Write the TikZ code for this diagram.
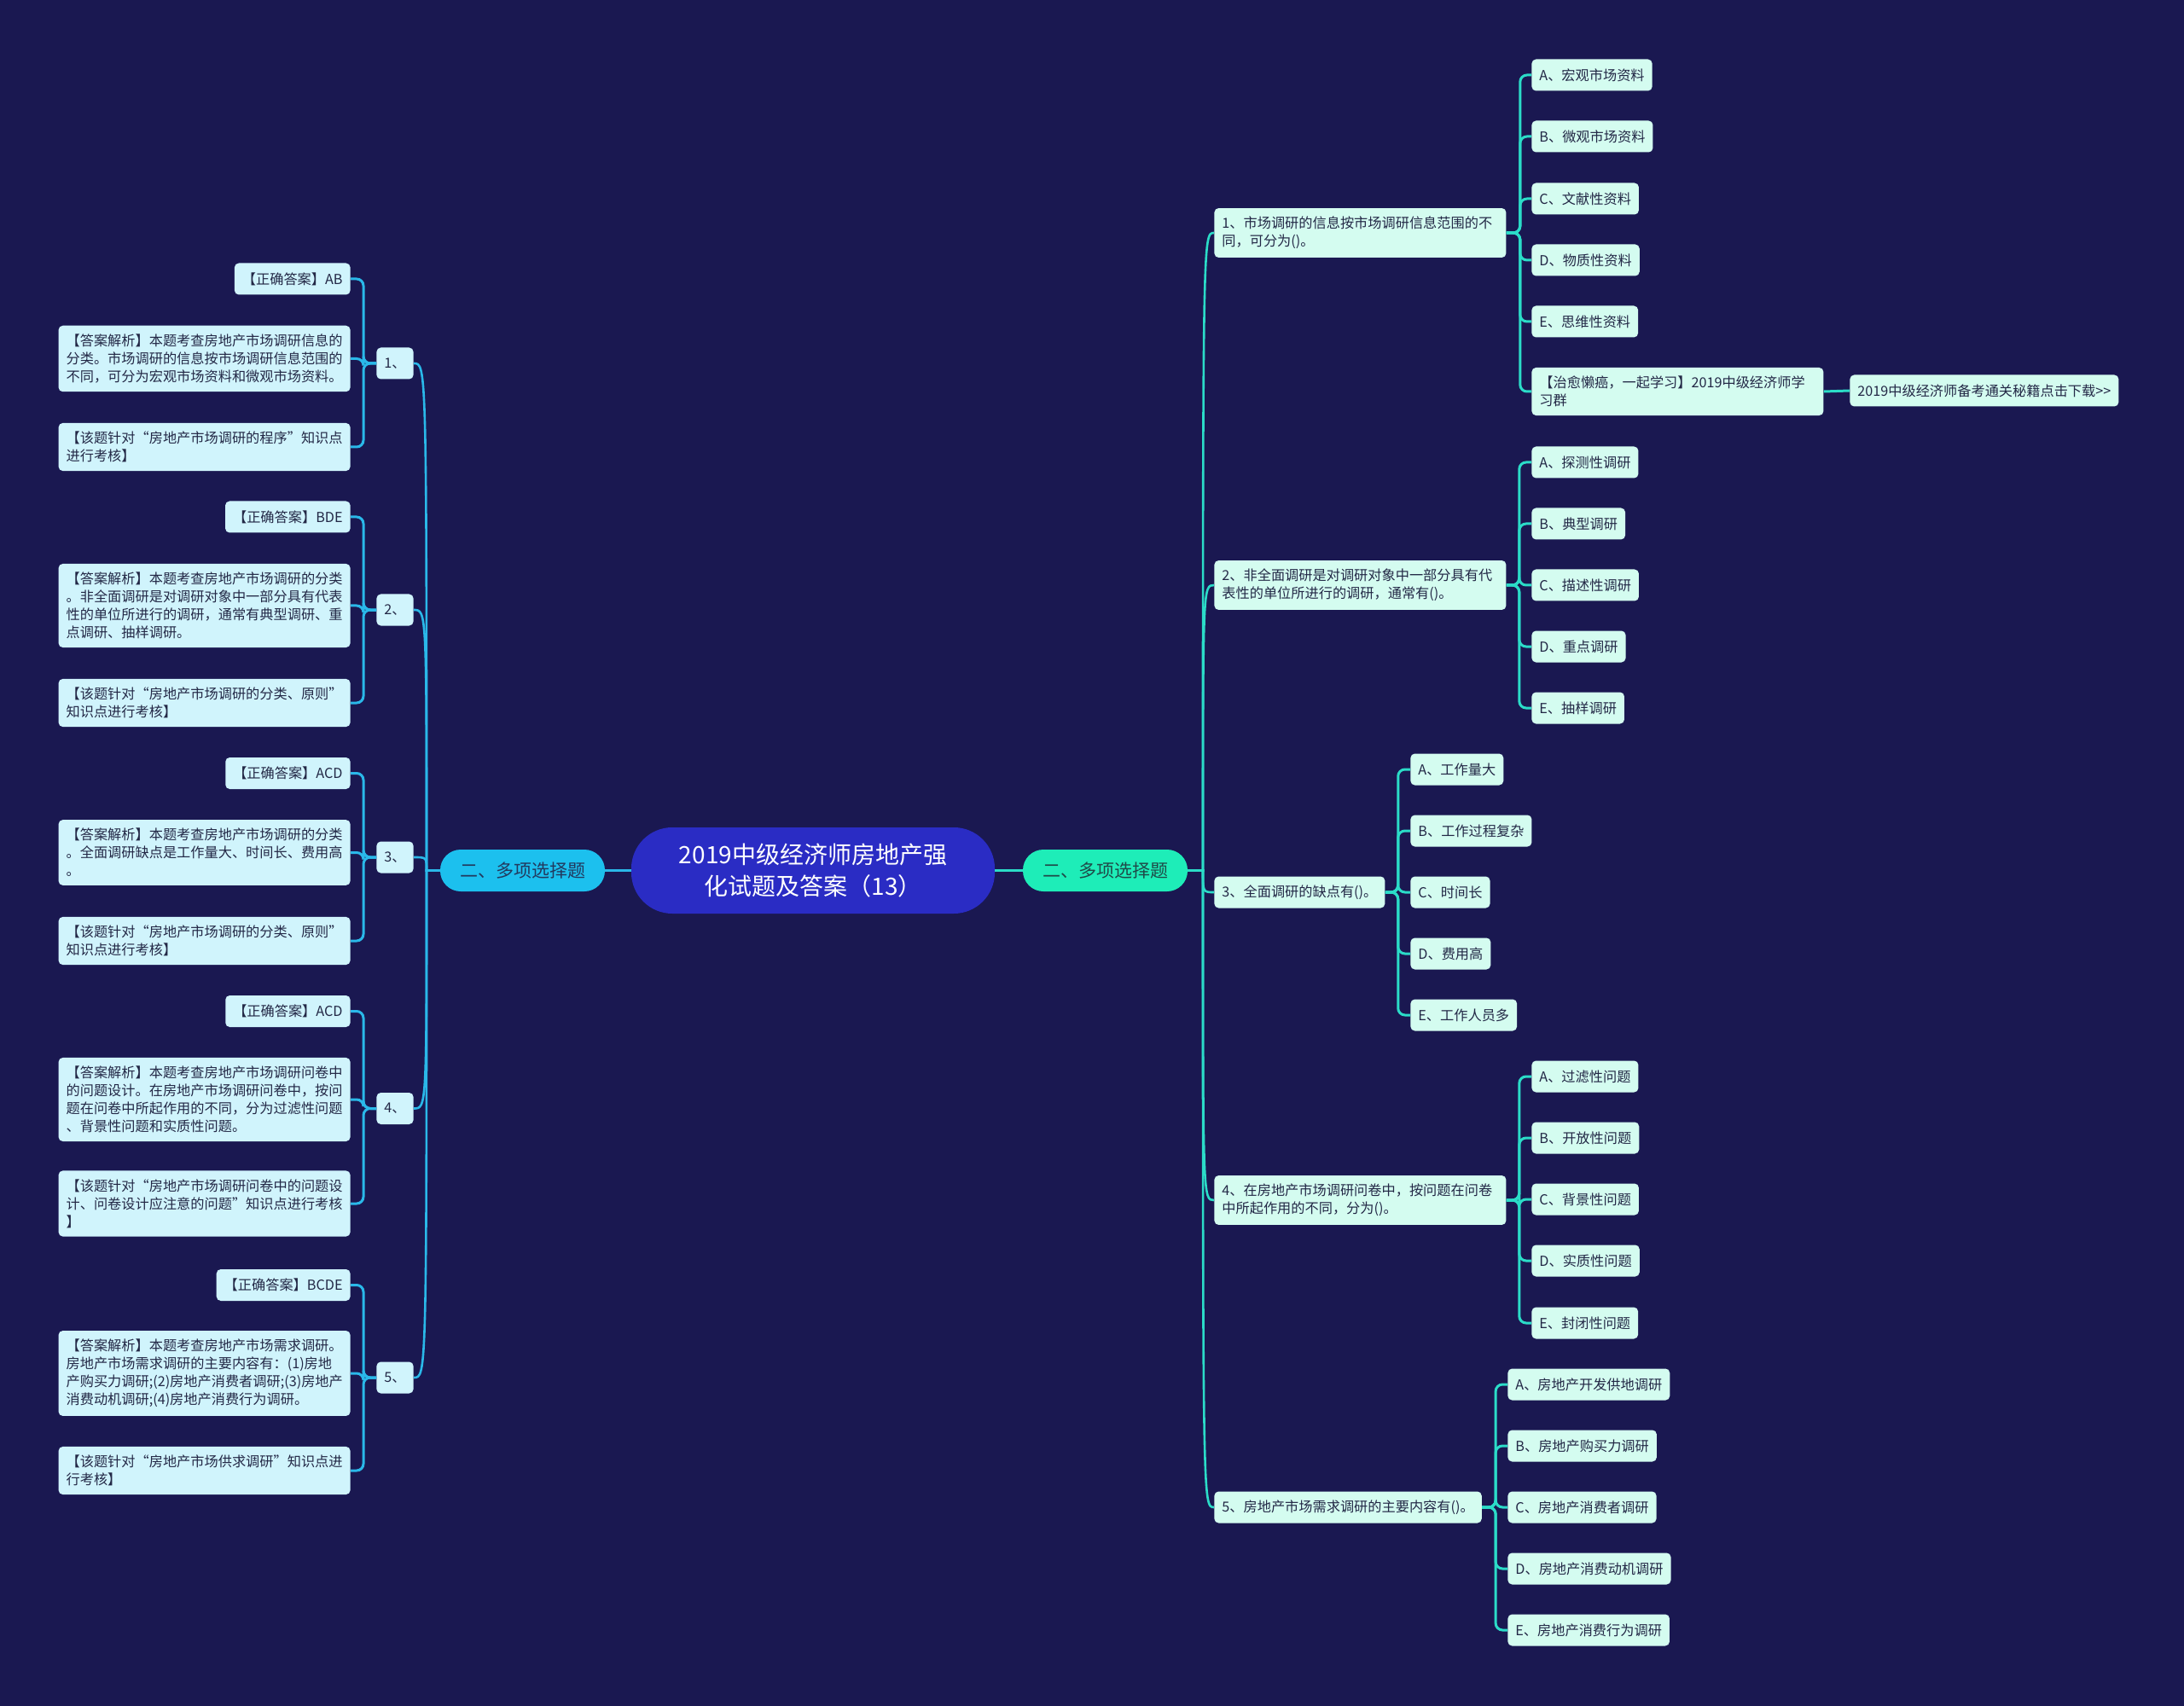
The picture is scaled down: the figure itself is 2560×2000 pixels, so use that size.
\documentclass[tikz,border=0pt]{standalone}
\usepackage{fontspec}
\setmainfont{Noto Sans CJK SC}
\definecolor{bgcol}{HTML}{1A1851}
\definecolor{rootcol}{HTML}{2A2CC4}
\definecolor{lbranchcol}{HTML}{1CC0EE}
\definecolor{rbranchcol}{HTML}{1EEDB8}
\definecolor{lleafcol}{HTML}{D0F4FC}
\definecolor{rleafcol}{HTML}{D4FCF0}
\definecolor{llinecol}{HTML}{2AB8E9}
\definecolor{rlinecol}{HTML}{2BDCC8}
\definecolor{leaftxt}{HTML}{232846}
\definecolor{lbtxt}{HTML}{22395E}
\definecolor{rbtxt}{HTML}{1F4A48}
\begin{document}
\begin{tikzpicture}[x=0.5pt,y=0.5pt,yscale=-1,xscale=1,
  lleaf/.style={fill=lleafcol,text=leaftxt,rounded corners=2.5pt,inner xsep=4.5pt,inner ysep=5pt,minimum height=18.5pt,align=left,font=\fontsize{8.1pt}{10.5pt}\selectfont},
  lwide/.style={lleaf,text width=162pt},
  rleaf/.style={lleaf,fill=rleafcol},
  rwide/.style={rleaf,text width=162pt},
  lbranch/.style={fill=lbranchcol,text=lbtxt,rounded corners=12pt,minimum width=96.5pt,minimum height=24.5pt,font=\fontsize{10.5pt}{12pt}\selectfont},
  rbranch/.style={lbranch,fill=rbranchcol,text=rbtxt},
  root/.style={fill=rootcol,text=white,rounded corners=24pt,minimum width=213pt,minimum height=50.5pt,align=center,font=\fontsize{14pt}{18.8pt}\selectfont},
  lline/.style={draw=llinecol,line width=1.3pt},
  rline/.style={draw=rlinecol,line width=1.3pt},
  lbus/.style={draw=llinecol,line width=1.5pt,rounded corners=4pt},
  rbus/.style={draw=rlinecol,line width=1.5pt,rounded corners=4pt}]
%Background
\fill [bgcol] (0,0) rectangle (2560,2000) ;
\useasboundingbox (0,0) rectangle (2560,2000) ;

% Text Node
\draw (953,1020.5) node (root) [root] {2019中级经济师房地产强\\化试题及答案（13）};
% Text Node
\draw (612.5,1020.5) node (lb) [lbranch] {二、多项选择题};
% Text Node
\draw (1295.5,1020.5) node (rb) [rbranch] {二、多项选择题};

% Text Node
\draw (463,426) node (n1) [lleaf] {1、};
% Text Node
\draw (463,715) node (n2) [lleaf] {2、};
% Text Node
\draw (463,1005) node (n3) [lleaf] {3、};
% Text Node
\draw (463,1299.5) node (n4) [lleaf] {4、};
% Text Node
\draw (463,1615) node (n5) [lleaf] {5、};

% Text Node
\draw (411,327) node (a1) [anchor=east,lleaf] {【正确答案】AB};
% Text Node
\draw (411,420.5) node (b1) [anchor=east,lwide] {【答案解析】本题考查房地产市场调研信息的\\分类。市场调研的信息按市场调研信息范围的\\不同，可分为宏观市场资料和微观市场资料。};
% Text Node
\draw (411,524) node (c1) [anchor=east,lwide] {【该题针对“房地产市场调研的程序”知识点\\进行考核】};

% Text Node
\draw (411,606) node (a2) [anchor=east,lleaf] {【正确答案】BDE};
% Text Node
\draw (411,710) node (b2) [anchor=east,lwide] {【答案解析】本题考查房地产市场调研的分类\\。非全面调研是对调研对象中一部分具有代表\\性的单位所进行的调研，通常有典型调研、重\\点调研、抽样调研。};
% Text Node
\draw (411,824) node (c2) [anchor=east,lwide] {【该题针对“房地产市场调研的分类、原则”\\知识点进行考核】};

% Text Node
\draw (411,906.5) node (a3) [anchor=east,lleaf] {【正确答案】ACD};
% Text Node
\draw (411,999.5) node (b3) [anchor=east,lwide] {【答案解析】本题考查房地产市场调研的分类\\。全面调研缺点是工作量大、时间长、费用高\\。};
% Text Node
\draw (411,1103) node (c3) [anchor=east,lwide] {【该题针对“房地产市场调研的分类、原则”\\知识点进行考核】};

% Text Node
\draw (411,1185.5) node (a4) [anchor=east,lleaf] {【正确答案】ACD};
% Text Node
\draw (411,1289) node (b4) [anchor=east,lwide] {【答案解析】本题考查房地产市场调研问卷中\\的问题设计。在房地产市场调研问卷中，按问\\题在问卷中所起作用的不同，分为过滤性问题\\、背景性问题和实质性问题。};
% Text Node
\draw (411,1411) node (c4) [anchor=east,lwide] {【该题针对“房地产市场调研问卷中的问题设\\计、问卷设计应注意的问题”知识点进行考核\\】};

% Text Node
\draw (411,1506.5) node (a5) [anchor=east,lleaf] {【正确答案】BCDE};
% Text Node
\draw (411,1610) node (b5) [anchor=east,lwide] {【答案解析】本题考查房地产市场需求调研。\\房地产市场需求调研的主要内容有：(1)房地\\产购买力调研;(2)房地产消费者调研;(3)房地产\\消费动机调研;(4)房地产消费行为调研。};
% Text Node
\draw (411,1724) node (c5) [anchor=east,lwide] {【该题针对“房地产市场供求调研”知识点进\\行考核】};

% Text Node
\draw (1423,273) node (q1) [anchor=west,rwide] {1、市场调研的信息按市场调研信息范围的不\\同，可分为()。};
% Text Node
\draw (1795,88) node (q1a) [anchor=west,rleaf] {A、宏观市场资料};
% Text Node
\draw (1795,160) node (q1b) [anchor=west,rleaf] {B、微观市场资料};
% Text Node
\draw (1795,233) node (q1c) [anchor=west,rleaf] {C、文献性资料};
% Text Node
\draw (1795,305) node (q1d) [anchor=west,rleaf] {D、物质性资料};
% Text Node
\draw (1795,377) node (q1e) [anchor=west,rleaf] {E、思维性资料};
% Text Node
\draw (1795,459) node (q1f) [anchor=west,rwide] {【治愈懒癌，一起学习】2019中级经济师学\\习群};
% Text Node
\draw (2168,458) node (q1g) [anchor=west,rleaf] {2019中级经济师备考通关秘籍点击下载>\kern0pt>};

% Text Node
\draw (1423,686) node (q2) [anchor=west,rwide] {2、非全面调研是对调研对象中一部分具有代\\表性的单位所进行的调研，通常有()。};
% Text Node
\draw (1795,542) node (q2a) [anchor=west,rleaf] {A、探测性调研};
% Text Node
\draw (1795,614) node (q2b) [anchor=west,rleaf] {B、典型调研};
% Text Node
\draw (1795,686) node (q2c) [anchor=west,rleaf] {C、描述性调研};
% Text Node
\draw (1795,758) node (q2d) [anchor=west,rleaf] {D、重点调研};
% Text Node
\draw (1795,830) node (q2e) [anchor=west,rleaf] {E、抽样调研};

% Text Node
\draw (1423,1046) node (q3) [anchor=west,rleaf] {3、全面调研的缺点有()。};
% Text Node
\draw (1653,902) node (q3a) [anchor=west,rleaf] {A、工作量大};
% Text Node
\draw (1653,974) node (q3b) [anchor=west,rleaf] {B、工作过程复杂};
% Text Node
\draw (1653,1046) node (q3c) [anchor=west,rleaf] {C、时间长};
% Text Node
\draw (1653,1118) node (q3d) [anchor=west,rleaf] {D、费用高};
% Text Node
\draw (1653,1190) node (q3e) [anchor=west,rleaf] {E、工作人员多};

% Text Node
\draw (1423,1407) node (q4) [anchor=west,rwide] {4、在房地产市场调研问卷中，按问题在问卷\\中所起作用的不同，分为()。};
% Text Node
\draw (1795,1262) node (q4a) [anchor=west,rleaf] {A、过滤性问题};
% Text Node
\draw (1795,1334) node (q4b) [anchor=west,rleaf] {B、开放性问题};
% Text Node
\draw (1795,1406) node (q4c) [anchor=west,rleaf] {C、背景性问题};
% Text Node
\draw (1795,1478) node (q4d) [anchor=west,rleaf] {D、实质性问题};
% Text Node
\draw (1795,1551) node (q4e) [anchor=west,rleaf] {E、封闭性问题};

% Text Node
\draw (1423,1767) node (q5) [anchor=west,rleaf] {5、房地产市场需求调研的主要内容有()。};
% Text Node
\draw (1767,1623) node (q5a) [anchor=west,rleaf] {A、房地产开发供地调研};
% Text Node
\draw (1767,1695) node (q5b) [anchor=west,rleaf] {B、房地产购买力调研};
% Text Node
\draw (1767,1767) node (q5c) [anchor=west,rleaf] {C、房地产消费者调研};
% Text Node
\draw (1767,1839) node (q5d) [anchor=west,rleaf] {D、房地产消费动机调研};
% Text Node
\draw (1767,1911) node (q5e) [anchor=west,rleaf] {E、房地产消费行为调研};

%Straight Lines
\draw [lline] (root.west) -- (lb.east) ;
\draw [rline] (root.east) -- (rb.west) ;

%Curve Lines
\coordinate (lt) at (500,1020.5) ;
\draw [lline] (lb.west) -- (lt) .. controls (lt |- n1.east) .. (n1.east) ;
\draw [lline] (lb.west) -- (lt) .. controls (lt |- n2.east) .. (n2.east) ;
\draw [lline] (lb.west) -- (lt) .. controls (lt |- n3.east) .. (n3.east) ;
\draw [lline] (lb.west) -- (lt) .. controls (lt |- n4.east) .. (n4.east) ;
\draw [lline] (lb.west) -- (lt) .. controls (lt |- n5.east) .. (n5.east) ;
\coordinate (rt) at (1410,1020.5) ;
\draw [rline] (rb.east) -- (rt) .. controls (rt |- q1.west) .. (q1.west) ;
\draw [rline] (rb.east) -- (rt) .. controls (rt |- q2.west) .. (q2.west) ;
\draw [rline] (rb.east) -- (rt) .. controls (rt |- q3.west) .. (q3.west) ;
\draw [rline] (rb.east) -- (rt) .. controls (rt |- q4.west) .. (q4.west) ;
\draw [rline] (rb.east) -- (rt) .. controls (rt |- q5.west) .. (q5.west) ;

%Bus Lines
\draw [lbus] (n1.west) -- ++(-15,0) |- (a1.east) ;
\draw [lbus] (n1.west) -- ++(-15,0) |- (b1.east) ;
\draw [lbus] (n1.west) -- ++(-15,0) |- (c1.east) ;
\draw [lbus] (n2.west) -- ++(-15,0) |- (a2.east) ;
\draw [lbus] (n2.west) -- ++(-15,0) |- (b2.east) ;
\draw [lbus] (n2.west) -- ++(-15,0) |- (c2.east) ;
\draw [lbus] (n3.west) -- ++(-15,0) |- (a3.east) ;
\draw [lbus] (n3.west) -- ++(-15,0) |- (b3.east) ;
\draw [lbus] (n3.west) -- ++(-15,0) |- (c3.east) ;
\draw [lbus] (n4.west) -- ++(-15,0) |- (a4.east) ;
\draw [lbus] (n4.west) -- ++(-15,0) |- (b4.east) ;
\draw [lbus] (n4.west) -- ++(-15,0) |- (c4.east) ;
\draw [lbus] (n5.west) -- ++(-15,0) |- (a5.east) ;
\draw [lbus] (n5.west) -- ++(-15,0) |- (b5.east) ;
\draw [lbus] (n5.west) -- ++(-15,0) |- (c5.east) ;

\draw [rbus] (q1.east) -- ++(16,0) |- (q1a.west) ;
\draw [rbus] (q1.east) -- ++(16,0) |- (q1b.west) ;
\draw [rbus] (q1.east) -- ++(16,0) |- (q1c.west) ;
\draw [rbus] (q1.east) -- ++(16,0) |- (q1d.west) ;
\draw [rbus] (q1.east) -- ++(16,0) |- (q1e.west) ;
\draw [rbus] (q1.east) -- ++(16,0) |- (q1f.west) ;
\draw [rbus] (q1f.east) -- (q1g.west) ;
\draw [rbus] (q2.east) -- ++(15,0) |- (q2a.west) ;
\draw [rbus] (q2.east) -- ++(15,0) |- (q2b.west) ;
\draw [rbus] (q2.east) -- ++(15,0) |- (q2c.west) ;
\draw [rbus] (q2.east) -- ++(15,0) |- (q2d.west) ;
\draw [rbus] (q2.east) -- ++(15,0) |- (q2e.west) ;
\draw [rbus] (q3.east) -- ++(15,0) |- (q3a.west) ;
\draw [rbus] (q3.east) -- ++(15,0) |- (q3b.west) ;
\draw [rbus] (q3.east) -- ++(15,0) |- (q3c.west) ;
\draw [rbus] (q3.east) -- ++(15,0) |- (q3d.west) ;
\draw [rbus] (q3.east) -- ++(15,0) |- (q3e.west) ;
\draw [rbus] (q4.east) -- ++(15,0) |- (q4a.west) ;
\draw [rbus] (q4.east) -- ++(15,0) |- (q4b.west) ;
\draw [rbus] (q4.east) -- ++(15,0) |- (q4c.west) ;
\draw [rbus] (q4.east) -- ++(15,0) |- (q4d.west) ;
\draw [rbus] (q4.east) -- ++(15,0) |- (q4e.west) ;
\draw [rbus] (q5.east) -- ++(16,0) |- (q5a.west) ;
\draw [rbus] (q5.east) -- ++(16,0) |- (q5b.west) ;
\draw [rbus] (q5.east) -- ++(16,0) |- (q5c.west) ;
\draw [rbus] (q5.east) -- ++(16,0) |- (q5d.west) ;
\draw [rbus] (q5.east) -- ++(16,0) |- (q5e.west) ;

\end{tikzpicture}
\end{document}
